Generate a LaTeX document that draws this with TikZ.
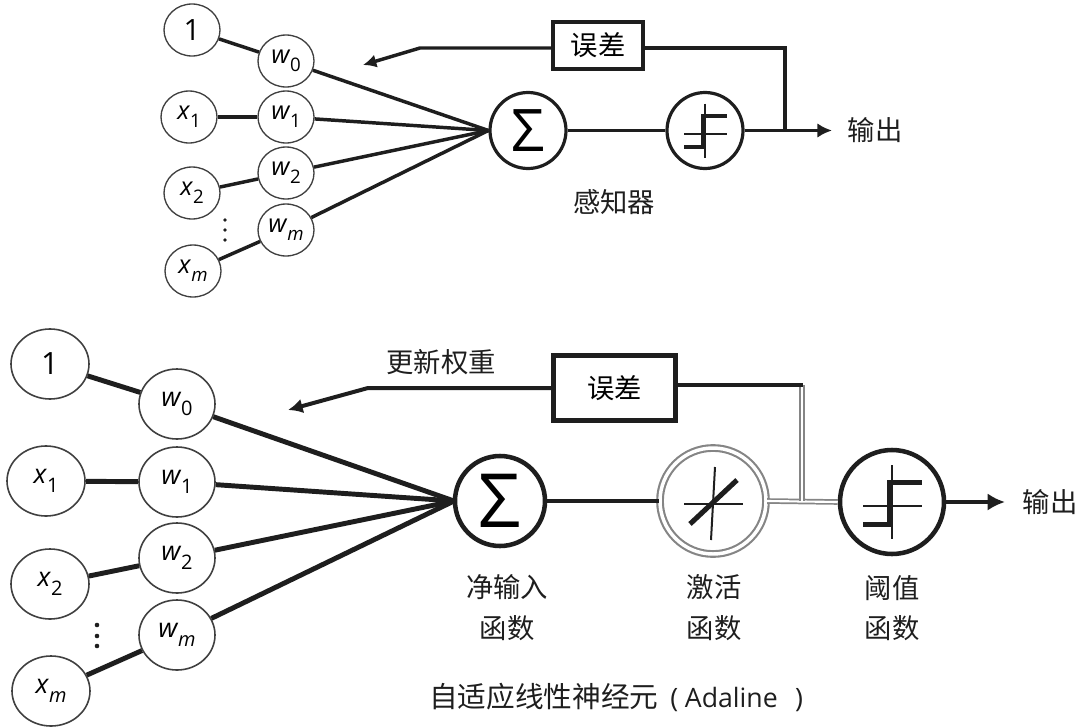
\documentclass[tikz,border=0pt]{standalone}
\usepackage{fontspec}
\setmainfont{Open Sans}
\newfontfamily\cjk{Noto Sans CJK SC}
\usetikzlibrary{arrows.meta,shapes.geometric}
\definecolor{ink}{HTML}{1E1E1E}
\definecolor{rim}{HTML}{858585}
\def\px{0.75pt}
% Italic variable with a lowered index
\newcommand{\varlabel}[2]{{\itshape #1}\kern0.5pt\raisebox{-0.32em}{\fontsize{14}{14}\selectfont #2}}
\newcommand{\bigvarlabel}[2]{{\itshape #1}\kern0.5pt\raisebox{-0.32em}{\fontsize{15}{15}\selectfont #2}}
% Step function glyph: centre, scale, thick stroke width
\newcommand{\stepglyph}[3]{%
  \begin{scope}[shift={(#1)},scale=#2]
    \draw[line width=1.5pt,ink] (0,-27) -- (0,27);
    \draw[line width=1.5pt,ink] (-21,3) -- (22,3);
    \draw[line width=#3,ink,line join=miter] (-21,16.5) -- (-2,16.5) -- (-2,-14.5) -- (22,-14.5);
  \end{scope}}
\tikzset{
  smallunit/.style={draw=ink!85,line width=1pt,ellipse,inner sep=0pt,minimum width=56*\px,minimum height=52*\px,font=\fontsize{19}{19}\selectfont},
  bigunit/.style={draw=ink!85,line width=1.2pt,ellipse,inner sep=0pt,minimum width=76*\px,minimum height=70*\px,font=\fontsize{20}{20}\selectfont},
  lightline/.style={draw=ink,line width=2.6pt},
  heavyline/.style={draw=ink,line width=3.7pt},
  graydouble/.style={draw=rim,line width=1.3pt,double=white,double distance=1.6pt},
  sumbig/.style={circle,draw=ink,line width=3.4pt,fill=white,inner sep=0pt,minimum size=90*\px},
  sumsmall/.style={circle,draw=ink,line width=2.4pt,fill=white,inner sep=0pt,minimum size=76*\px},
  errbox/.style={draw=ink,inner sep=0pt,font=\cjk\fontsize{20.5}{20.5}\selectfont,fill=white},
  cjklabel/.style={inner sep=0pt,font=\cjk\fontsize{20.5}{20.5}\selectfont,text=ink},
  tip/.style={-{Latex[length=#1,width=#1]}},
}
\begin{document}
\begin{tikzpicture}[x=\px,y=-\px]
\useasboundingbox (0,0) rectangle (1078,728);

% Perceptron: input and weight units
\node[smallunit] (ta) at (192,30) {\fontsize{22}{22}\selectfont 1};
\node[smallunit] (tb) at (189,117) {\varlabel{x}{1}};
\node[smallunit] (tc) at (192,193) {\varlabel{x}{2}};
\node[smallunit] (td) at (193,271) {\varlabel{x}{\itshape m}};
\node[smallunit] (tw0) at (286,61) {\varlabel{w}{0}};
\node[smallunit] (tw1) at (286,117) {\varlabel{w}{1}};
\node[smallunit] (tw2) at (286,173) {\varlabel{w}{2}};
\node[smallunit] (twm) at (286,230) {\varlabel{w}{\itshape m}};
\foreach \yy in {220,230,240} \fill[ink] (225,\yy) circle (1.9);

% Perceptron: summation, threshold and error
\node[sumsmall,font=\fontsize{44}{44}\selectfont] (tsum) at (528,130.5) {Σ};
\node[sumsmall] (tstep) at (705,130.5) {};
\stepglyph{tstep.center}{1}{2.3pt}
\node[errbox,line width=2.4pt,minimum width=90*\px,minimum height=47*\px] (terr) at (598,45.5) {误差};
\node[cjklabel] (tout) at (875,130) {输出};
\node[cjklabel] (tcap) at (614,202) {感知器};
\coordinate (tsplit) at (785,130.5);
\coordinate (tcorner) at (785,48);
\coordinate (tbend) at (420,48);
\coordinate (thead) at (363,65);
\coordinate (ttip) at (832,130.5);

\foreach \i/\w in {ta/tw0,tb/tw1,tc/tw2,td/twm} \draw[lightline] (\i) -- (\w);
\foreach \w in {tw0,tw1,tw2,twm} \draw[lightline] (\w) -- (tsum.west);
\draw[lightline] (tsum) -- (tstep);
\draw[lightline,tip=11pt] (tstep) -- (ttip);
\draw[lightline,line join=miter] (terr.east |- tcorner) -- (tcorner) -- (tsplit);
\draw[lightline,tip=10pt,line join=miter] (terr.west |- tbend) -- (tbend) -- (thead);

% Adaline: input and weight units
\node[bigunit,minimum width=78*\px] (ba) at (50,364) {\fontsize{23}{23}\selectfont 1};
\node[bigunit,minimum width=78*\px] (bb) at (46,481) {\bigvarlabel{x}{1}};
\node[bigunit,minimum width=78*\px] (bc) at (50,584) {\bigvarlabel{x}{2}};
\node[bigunit,minimum width=78*\px] (bd) at (51,691) {\bigvarlabel{x}{\itshape m}};
\node[bigunit] (bw0) at (177,404) {\bigvarlabel{w}{0}};
\node[bigunit] (bw1) at (177,482) {\bigvarlabel{w}{1}};
\node[bigunit] (bw2) at (177,558) {\bigvarlabel{w}{2}};
\node[bigunit] (bwm) at (177,635) {\bigvarlabel{w}{\itshape m}};
\foreach \yy in {625,636,646} \fill[ink] (97,\yy) circle (2.3);

\foreach \i/\w in {ba/bw0,bb/bw1,bc/bw2,bd/bwm} \draw[heavyline] (\i) -- (\w);
\coordinate (bhub) at (454,501);
\foreach \w in {bw0,bw1,bw2,bwm} \draw[heavyline] (\w) -- (bhub);

% Adaline: summation, activation, threshold
\node[sumbig,font=\fontsize{56}{56}\selectfont] (bsum) at (500,501) {Σ};
\node[circle,draw=rim,line width=1.6pt,double=white,double distance=2.6pt,inner sep=0pt,minimum size=106*\px] (bact) at (713,501) {};
\node[sumbig,minimum size=104*\px] (bthr) at (892,502) {};
\draw[line width=1.5pt,ink] (bact.center) ++(2,-34) -- ++(-4,73);
\draw[line width=1.5pt,ink] (bact.center) ++(-29,3) -- ++(59,0);
\draw[line width=3.8pt,ink] (bact.center) ++(-23,23) -- ++(47,-44);
\stepglyph{bthr.center}{1.37}{3.6pt}

\node[errbox,line width=3.4pt,minimum width=122*\px,minimum height=65*\px] (berr) at (614.5,388) {误差};
\node[cjklabel] (bupd) at (441,362) {更新权重};
\node[cjklabel] (bout) at (1050,502) {输出};
\node[cjklabel] (bl1) at (507,587) {净输入};
\node[cjklabel] (bl2) at (507,628) {函数};
\node[cjklabel] (bl3) at (714,587) {激活};
\node[cjklabel] (bl4) at (714,628) {函数};
\node[cjklabel] (bl5) at (892,588) {阈值};
\node[cjklabel] (bl6) at (892,628) {函数};
\node[cjklabel,font=\cjk\fontsize{21.5}{21.5}\selectfont] (btitle) at (616,697) {自适应线性神经元\kern9pt{\normalfont\fontsize{20}{20}\selectfont (\kern5pt Adaline\kern13pt)}};

\coordinate (bjoin) at (802,501);
\coordinate (bcorner) at (802,385);
\coordinate (bbend) at (368,388);
\coordinate (bhead) at (288,410);
\coordinate (btip) at (1005,502);

\draw[graydouble] (bact.east) -- (bthr.west);
\draw[graydouble] (bjoin) -- (bcorner);
\draw[draw=ink,line width=2.6pt] (berr.east |- bcorner) -- ([xshift=1pt]bcorner);
\draw[heavyline] (bsum) -- (bact);
\draw[heavyline,tip=13pt] (bthr) -- (btip);
\draw[draw=ink,line width=3pt,tip=11pt,line join=miter] (berr.west |- bbend) -- (bbend) -- (bhead);
\end{tikzpicture}
\end{document}
